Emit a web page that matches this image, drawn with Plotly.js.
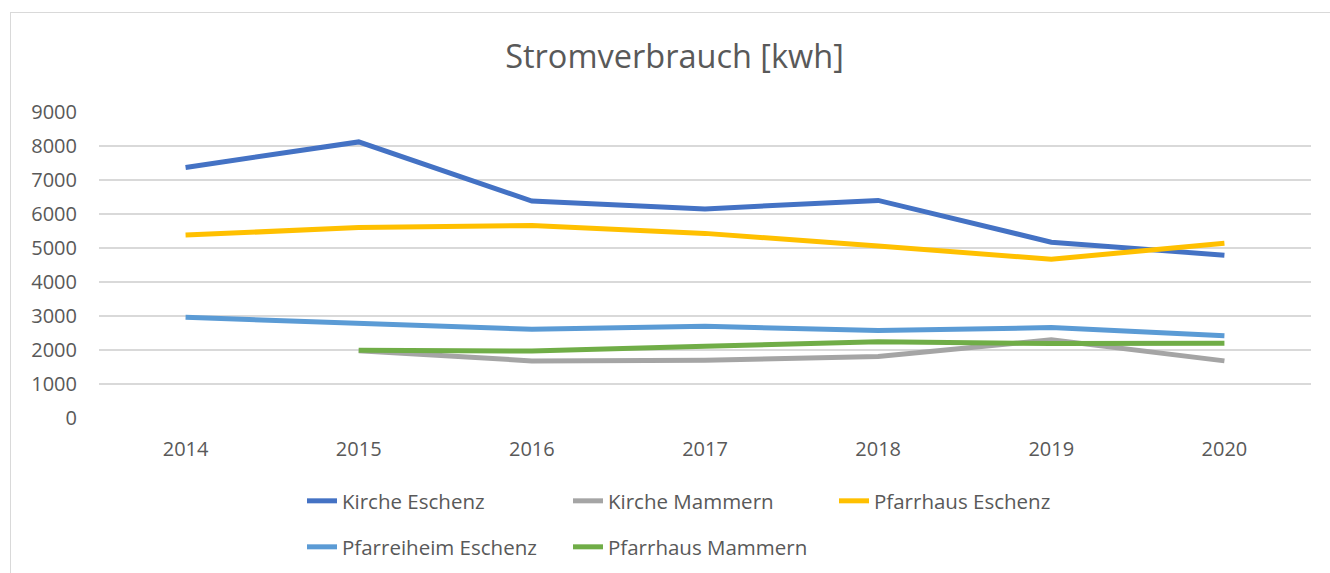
<!DOCTYPE html>
<html>
<head>
<meta charset="utf-8">
<script src="https://cdn.plot.ly/plotly-3.0.1.min.js"></script>
<style>
  html, body { margin: 0; padding: 0; background: #ffffff; overflow: hidden; }
  #frame { position: absolute; left: 10px; top: 12px; width: 1400px; height: 600px;
           border: 1.5px solid #d9d9d9; box-sizing: border-box; }
  #chart { position: absolute; left: 0; top: 0; width: 1330px; height: 573px; }
</style>
</head>
<body>
<div id="frame"></div>
<div id="chart"></div>
<script>
const years = ['2014', '2015', '2016', '2017', '2018', '2019', '2020'];

const seriesNames = ['Kirche Eschenz', 'Kirche Mammern', 'Pfarrhaus Eschenz', 'Pfarreiheim Eschenz', 'Pfarrhaus Mammern'];

const kircheEschenz      = [7370, 8120, 6380, 6150, 6400, 5170, 4790];
const kircheMammern      = [null, 1980, 1680, 1700, 1810, 2300, 1680];
const pfarrhausEschenz   = [5380, 5600, 5660, 5430, 5060, 4670, 5140];
const pfarreiheimEschenz = [2960, 2790, 2610, 2700, 2570, 2660, 2420];
const pfarrhausMammern   = [null, 1990, 1970, 2110, 2240, 2190, 2200];

const seriesValues = [kircheEschenz, kircheMammern, pfarrhausEschenz, pfarreiheimEschenz, pfarrhausMammern];
const seriesColors = ['#4472C4', '#A5A5A5', '#FFC000', '#5B9BD5', '#70AD47'];
const legendIds = ['legend', 'legend', 'legend', 'legend2', 'legend2'];

const FONT = '"Open Sans", "Noto Sans", sans-serif';
const TXT = '#595959';

const traces = seriesNames.map((name, i) => ({
  type: 'scatter',
  mode: 'lines',
  name: name,
  x: years,
  y: seriesValues[i],
  line: { color: seriesColors[i], width: 5 },
  connectgaps: false,
  legend: legendIds[i],
  hoverinfo: 'x+y+name'
}));

const legendCommon = {
  orientation: 'h',
  xref: 'container', yref: 'container',
  xanchor: 'left', yanchor: 'middle',
  entrywidth: 221,
  font: { family: FONT, size: 20.5, color: TXT },
  bgcolor: 'rgba(0,0,0,0)',
  borderwidth: 0,
  itemwidth: 30,
  traceorder: 'normal'
};

const layout = {
  width: 1330, height: 573,
  paper_bgcolor: 'rgba(0,0,0,0)',
  plot_bgcolor: 'rgba(0,0,0,0)',
  margin: { l: 99, r: 19, t: 112, b: 155 },
  font: { family: FONT, color: TXT },
  title: {
    text: 'Stromverbrauch [kwh]',
    font: { family: FONT, size: 32.5, color: TXT },
    x: 674.5 / 1330, xanchor: 'center',
    y: 1 - 57 / 573, yanchor: 'middle', xref: 'container', yref: 'container'
  },
  xaxis: {
    type: 'category',
    range: [-0.5, 6.5],
    showgrid: false,
    showline: false,
    zeroline: false,
    ticks: '',
    ticklabelstandoff: 17,
    tickfont: { family: FONT, size: 20, color: TXT },
    fixedrange: true
  },
  yaxis: {
    range: [0, 9000],
    dtick: 1000,
    tick0: 0,
    showgrid: true,
    gridcolor: '#d9d9d9',
    gridwidth: 1.5,
    zeroline: false,
    showline: false,
    ticks: '',
    ticklabelstandoff: 21,
    tickfont: { family: FONT, size: 20, color: TXT },
    fixedrange: true
  },
  showlegend: true,
  legend: Object.assign({}, legendCommon, { x: 302 / 1330, y: 1 - 501 / 573 }),
  legend2: Object.assign({}, legendCommon, { x: 302 / 1330, y: 1 - 547 / 573 })
};

Plotly.newPlot('chart', traces, layout, { displayModeBar: false, staticPlot: false });
</script>
</body>
</html>
